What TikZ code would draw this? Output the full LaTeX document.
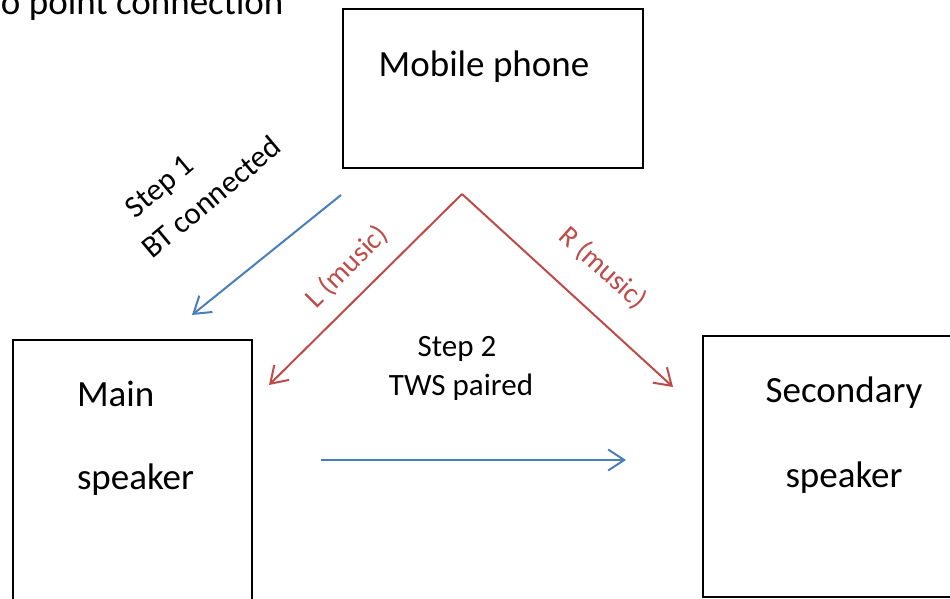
\documentclass[tikz,border=0pt]{standalone}
\usepackage{fontspec}
\setmainfont{Carlito}
\usetikzlibrary{arrows.meta}
\definecolor{linkblue}{HTML}{4A7EBB}
\definecolor{musicred}{HTML}{BE4B48}

\begin{document}
\begin{tikzpicture}[x=1pt,y=-1pt,>={Straight Barb[length=16pt,width=21pt]},line width=2pt,
    box/.style={rectangle,draw,line width=2pt,inner sep=0pt},
    big/.style={font=\fontsize{37}{44}\selectfont,inner sep=0pt},
    mid/.style={font=\fontsize{31}{37}\selectfont,inner sep=0pt},
    small/.style={font=\fontsize{28.5}{34}\selectfont,inner sep=0pt,text=musicred},
    blue arrow/.style={->,draw=linkblue},
    red arrow/.style={->,draw=musicred}]
    \clip (0,0) rectangle (950,599);
    \node[big,anchor=base west] (title) at (0,15) {o point connection};
    % boxes
    \node[box,minimum width=300pt,minimum height=159pt] (phone) at (493,88.5) {};
    \node[box,minimum width=239pt,minimum height=280pt] (mainspk) at (132.5,480) {};
    \node[box,minimum width=267pt,minimum height=261pt] (secspk) at (836.5,466.5) {};
    \node[big,anchor=base] (phonetxt) at (484,77) {Mobile phone};
    \node[big,anchor=base west] (main1) at (76,406) {Main};
    \node[big,anchor=base west] (main2) at (76,489) {speaker};
    \node[big,anchor=base] (sec1) at (844,402) {Secondary};
    \node[big,anchor=base] (sec2) at (844,487) {speaker};
    % labels
    \node[mid,rotate=40] (step1) at (161,188) {Step 1};
    \node[mid,rotate=40] (bt) at (211,197) {BT connected};
    \node[mid,anchor=base] (step2) at (457,356) {Step 2};
    \node[mid,anchor=base] (tws) at (461,395) {TWS paired};
    \node[small,rotate=45] (lmusic) at (347,267) {L (music)};
    \node[small,rotate=-42] (rmusic) at (603,268) {R (music)};
    % arrows
    \coordinate (btfrom) at (341,195);
    \coordinate (btto) at (192,315);
    \coordinate (split) at (462,194);
    \coordinate (lto) at (269,385);
    \coordinate (rto) at (673,387);
    \coordinate (twsfrom) at (321,460);
    \coordinate (twsto) at (626,460);
    \draw[blue arrow] (btfrom) -- (btto);
    \draw[red arrow] (split) -- (lto);
    \draw[red arrow] (split) -- (rto);
    \draw[blue arrow] (twsfrom) -- (twsto);
\end{tikzpicture}
\end{document}
